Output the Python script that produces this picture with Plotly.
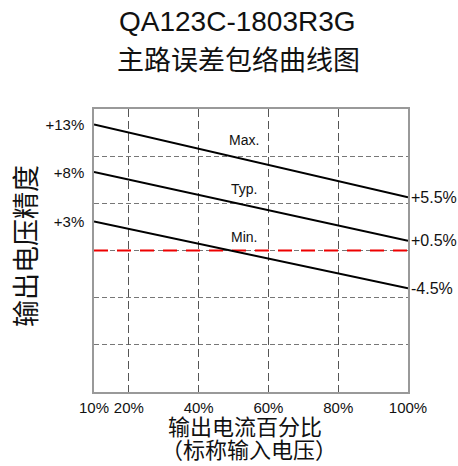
import plotly.graph_objects as go

# ---- data ----
load_pct = [10, 100]                 # output current, % of rated
max_err = [13.0, 5.5]                # Max. envelope, %
typ_err = [8.1, 1.0]                 # Typ. envelope, %
min_err = [3.0, -3.9]                # Min. envelope, %
zero_ref = [0, 0]                    # 0 % reference line

series_names = ["Max.", "Typ.", "Min."]
series_label_x = [53, 53, 53]
series_label_y = [11.4, 6.3, 1.4]

left_tick_vals = [13, 8, 3]
left_tick_text = ["+13%", "+8%", "+3%"]
right_end_text = ["+5.5%", "+0.5%", "-4.5%"]

x_tick_vals = [10, 20, 40, 60, 80, 100]
x_tick_text = ["10%", "20%", "40%", "60%", "80%", "100%"]

title_main = "QA123C-1803R3G"
title_sub = "主路误差包络曲线图"
y_title = "输出电压精度"
x_title_1 = "输出电流百分比"
x_title_2 = "（标称输入电压）"

LAT = "Liberation Sans, Arial, sans-serif"
CJK = "Noto Sans CJK SC, sans-serif"

fig = go.Figure()

fig.add_trace(go.Scatter(x=load_pct, y=zero_ref, mode="lines",
                         line=dict(color="#ee0000", width=2, dash="14px,9px"),
                         hoverinfo="skip", showlegend=False))
for ys in (max_err, typ_err, min_err):
    fig.add_trace(go.Scatter(x=load_pct, y=ys, mode="lines",
                             line=dict(color="black", width=2),
                             showlegend=False))

annotations = []
for name, lx, ly in zip(series_names, series_label_x, series_label_y):
    annotations.append(dict(x=lx, y=ly, xref="x", yref="y", text=name,
                            showarrow=False, font=dict(family=LAT, size=14, color="#111"),
                            xanchor="center", yanchor="middle"))
for ys, txt in zip((max_err, typ_err, min_err), right_end_text):
    annotations.append(dict(x=load_pct[-1], y=ys[-1], xref="x", yref="y", text=txt,
                            showarrow=False, font=dict(family=LAT, size=16, color="#111"),
                            xanchor="left", yanchor="middle", xshift=1))

annotations += [
    dict(x=0.457, y=1.309, xref="paper", yref="paper", text=title_main, showarrow=False,
         font=dict(family=LAT, size=28, color="#111"), xanchor="center", yanchor="middle"),
    dict(x=0.459, y=1.178, xref="paper", yref="paper", text=title_sub, showarrow=False,
         font=dict(family=CJK, size=27, color="#111"), xanchor="center", yanchor="middle"),
    dict(x=-0.22, y=0.516, xref="paper", yref="paper", text=y_title, showarrow=False,
         textangle=-90, font=dict(family=CJK, size=27, color="#111"),
         xanchor="center", yanchor="middle"),
    dict(x=0.481, y=-0.117, xref="paper", yref="paper", text=x_title_1, showarrow=False,
         font=dict(family=CJK, size=22, color="#111"), xanchor="center", yanchor="middle"),
    dict(x=0.494, y=-0.199, xref="paper", yref="paper", text=x_title_2, showarrow=False,
         font=dict(family=CJK, size=22, color="#111"), xanchor="center", yanchor="middle"),
]

fig.update_layout(
    width=458, height=466,
    margin=dict(l=94, r=50, t=109, b=74),
    paper_bgcolor="white", plot_bgcolor="white",
    showlegend=False,
    annotations=annotations,
    xaxis=dict(range=[10, 100], tickvals=x_tick_vals, ticktext=x_tick_text,
               showgrid=True, gridcolor="#555", gridwidth=1, griddash="8px,4px",
               zeroline=False, showline=True, linecolor="#999", linewidth=1.5, mirror=True,
               ticks="outside", ticklen=1, tickcolor="rgba(0,0,0,0)",
               tickfont=dict(family=LAT, size=15, color="#111")),
    yaxis=dict(range=[-14.6, 14.6], tickvals=left_tick_vals, ticktext=left_tick_text,
               showgrid=False, zeroline=False,
               showline=True, linecolor="#999", linewidth=1.5, mirror=True,
               ticks="outside", ticklen=5, tickcolor="rgba(0,0,0,0)",
               tickfont=dict(family=LAT, size=15, color="#111"),
               minor=dict(showgrid=True, tick0=0, dtick=29.2 / 6, gridcolor="#777",
                          gridwidth=1, griddash="5px,3px", ticks="")),
)

fig.write_html("out.html", config={"displayModeBar": False},
               post_script="document.body.style.margin='0';document.body.style.overflow='hidden';")
